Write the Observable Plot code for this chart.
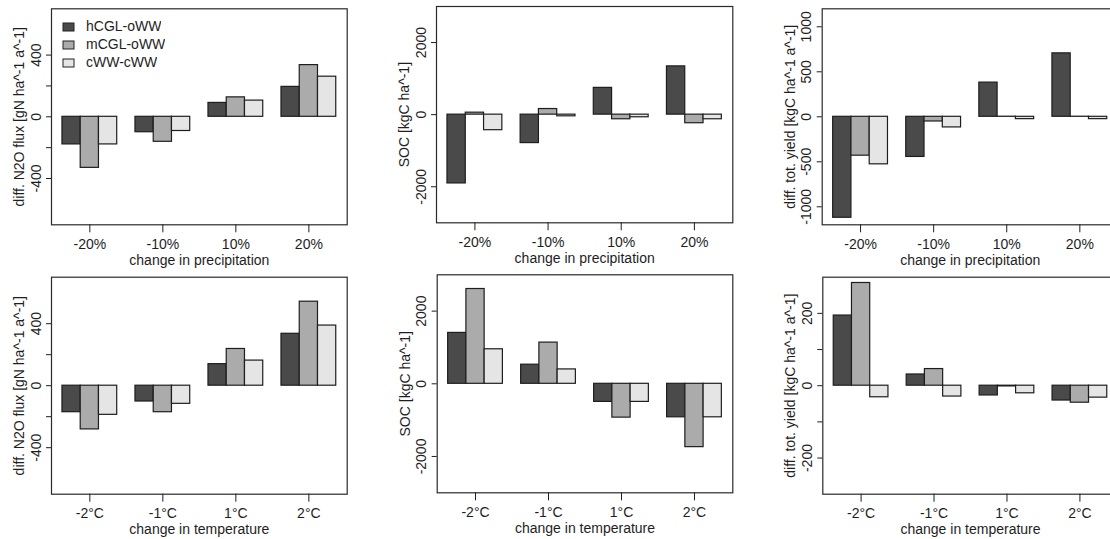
<!DOCTYPE html>
<html>
<head>
<meta charset="utf-8">
<script src="https://cdn.jsdelivr.net/npm/d3@7"></script>
<script src="https://cdn.jsdelivr.net/npm/@observablehq/plot@0.6"></script>
<style>
  html, body { margin: 0; padding: 0; background: #fff; }
  body { position: relative; width: 1110px; height: 539px; overflow: hidden;
         font-family: "Liberation Sans", Arial, sans-serif; }
  .panel { position: absolute; }
  .panel svg { max-width: none !important; }
  #legend { position: absolute; left: 63px; top: 18px; }
  #legend * { line-height: 17px; }
  #legend svg { margin-right: 12px !important; }
  #legend svg rect { stroke: #222; stroke-width: 1; }
</style>
</head>
<body>
<div id="root"></div>
<script>
// Scenario categories
const precipCats = ["-20%", "-10%", "10%", "20%"];
const tempCats = ["-2°C", "-1°C", "1°C", "2°C"];

// Compared management systems
const series = ["hCGL-oWW", "mCGL-oWW", "cWW-cWW"];
const fills = ["#4a4a4a", "#ababab", "#e5e5e5"];

// Differences per scenario, one array per system (hCGL, mCGL, cWW)
const n2oPrecip = [[-179, -100, 90, 194], [-331, -162, 126, 335], [-179, -92, 105, 260]];
const socPrecip = [[-1908, -789, 743, 1339], [55, 156, -128, -238], [-431, -46, -73, -128]];
const yieldPrecip = [[-1122, -446, 380, 705], [-432, -52, 1, 1], [-528, -118, -26, -26]];

const n2oTemp = [[-171, -102, 139, 335], [-282, -171, 237, 542], [-188, -117, 162, 388]];
const socTemp = [[1401, 526, -498, -922], [2609, 1134, -931, -1743], [950, 396, -498, -922]];
const yieldTemp = [[194, 31, -27, -41], [284, 46, -2, -47], [-32, -30, -21, -33]];

// Axis ticks (all tick marks, and the ones that carry a label)
const n2oTicks = [-400, -200, 0, 200, 400], n2oLabeled = [-400, 0, 400];
const socTicks = [-2000, 0, 2000], socLabeled = [-2000, 0, 2000];
const yieldPTicks = [-1000, -500, 0, 500, 1000], yieldPLabeled = [-1000, -500, 0, 500, 1000];
const yieldTTicks = [-200, -100, 0, 100, 200], yieldTLabeled = [-200, 0, 200];

const n2oTitle = "diff. N2O flux [gN ha^-1 a^-1]";
const socTitle = "SOC [kgC ha^-1]";
const yieldTitle = "diff. tot. yield [kgC ha^-1 a^-1]";

const root = document.getElementById("root");

// Grouped bar chart: each group holds three bars followed by a one-bar gap
function panel(cfg) {
  const rows = [];
  cfg.cats.forEach((c, g) =>
    series.forEach((s, k) => rows.push({cat: c, series: s, g, k, value: cfg.values[k][g]}))
  );
  const chart = Plot.plot({
    width: cfg.width,
    height: 270,
    marginLeft: cfg.m[0],
    marginRight: cfg.m[1],
    marginTop: cfg.m[2],
    marginBottom: cfg.m[3],
    x: {domain: [0.4, 16.6], axis: null},
    y: {domain: cfg.yDomain, axis: null},
    color: {domain: series, range: fills},
    style: {
      fontFamily: "'Liberation Sans', Arial, sans-serif",
      fontSize: "14px",
      color: "#1e1e1e",
      background: "transparent",
      overflow: "visible"
    },
    marks: [
      Plot.rect(rows, {
        x1: d => 4 * d.g + 1 + d.k,
        x2: d => 4 * d.g + 2 + d.k,
        y1: 0,
        y2: "value",
        fill: "series",
        stroke: "#1e1e1e",
        strokeWidth: 1.2
      }),
      Plot.frame({stroke: "#2a2a2a", strokeWidth: 1.2}),
      Plot.axisY({
        ticks: cfg.yTicks,
        tickFormat: v => (cfg.yLabeled.includes(v) ? String(v) : ""),
        tickSize: 5,
        tickPadding: 6,
        tickRotate: -90,
        textAnchor: "middle",
        lineAnchor: "bottom",
        label: null
      }),
      Plot.axisX({
        ticks: cfg.cats.map((c, i) => 4 * i + 2.5),
        tickFormat: v => cfg.cats[Math.round((v - 2.5) / 4)],
        tickSize: 8,
        tickPadding: 6,
        label: null
      }),
      Plot.text([cfg.yTitle], {
        frameAnchor: "left",
        rotate: -90,
        dx: -32,
        lineAnchor: "middle",
        textAnchor: "middle"
      }),
      Plot.text([cfg.xTitle], {
        frameAnchor: "bottom",
        dy: 35.5,
        lineAnchor: "middle",
        textAnchor: "middle"
      })
    ]
  });
  const div = document.createElement("div");
  div.className = "panel";
  div.style.left = cfg.left + "px";
  div.style.top = cfg.top + "px";
  div.style.width = cfg.width + "px";
  div.appendChild(chart);
  root.appendChild(div);
  return chart;
}

const first = panel({cats: precipCats, values: n2oPrecip, yDomain: [-700, 700], yTicks: n2oTicks, yLabeled: n2oLabeled,
  yTitle: n2oTitle, xTitle: "change in precipitation", left: 0, top: 0, width: 370, m: [51, 23.3, 8.3, 45.7]});
panel({cats: precipCats, values: socPrecip, yDomain: [-3000, 3000], yTicks: socTicks, yLabeled: socLabeled,
  yTitle: socTitle, xTitle: "change in precipitation", left: 370, top: 0, width: 370, m: [66, 7.7, 6, 47.7]});
panel({cats: precipCats, values: yieldPrecip, yDomain: [-1200, 1200], yTicks: yieldPTicks, yLabeled: yieldPLabeled,
  yTitle: yieldTitle, xTitle: "change in precipitation", left: 740, top: 0, width: 380, m: [81.7, 2.3, 8.3, 45.7]});

panel({cats: tempCats, values: n2oTemp, yDomain: [-700, 700], yTicks: n2oTicks, yLabeled: n2oLabeled,
  yTitle: n2oTitle, xTitle: "change in temperature", left: 0, top: 270, width: 370, m: [51, 23.3, 6.7, 46.3]});
panel({cats: tempCats, values: socTemp, yDomain: [-3000, 3000], yTicks: socTicks, yLabeled: socLabeled,
  yTitle: socTitle, xTitle: "change in temperature", left: 370, top: 270, width: 370, m: [66.7, 7.7, 4.3, 47.7]});
panel({cats: tempCats, values: yieldTemp, yDomain: [-300, 300], yTicks: yieldTTicks, yLabeled: yieldTLabeled,
  yTitle: yieldTitle, xTitle: "change in temperature", left: 740, top: 270, width: 380, m: [82.3, 2.3, 6.7, 46.3]});

// Legend inside the first panel, built from its colour scale
const legend = first.legend("color", {
  legend: "swatches",
  columns: 1,
  swatchWidth: 11,
  swatchHeight: 8,
  style: {fontFamily: "'Liberation Sans', Arial, sans-serif", fontSize: "14px", color: "#1e1e1e"}
});
const legendBox = document.createElement("div");
legendBox.id = "legend";
legendBox.appendChild(legend);
root.appendChild(legendBox);
</script>
</body>
</html>
